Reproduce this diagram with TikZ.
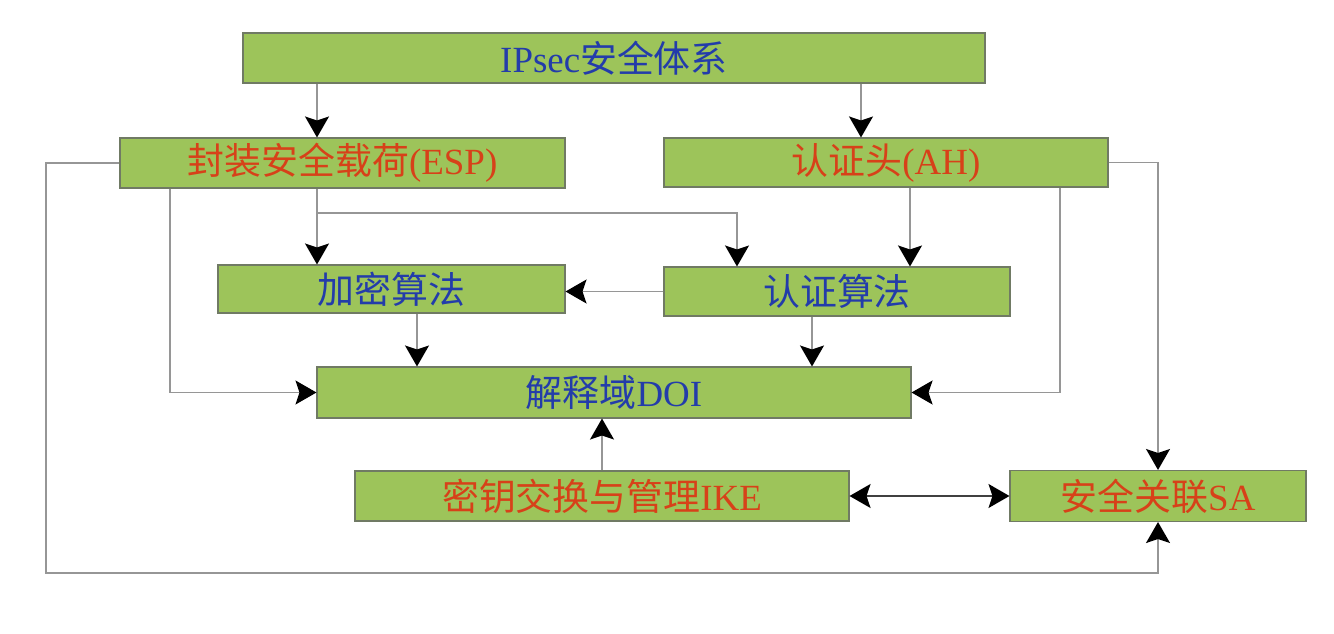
\documentclass[tikz,border=0pt]{standalone}
\usepackage{fontspec}
\setmainfont{Liberation Serif}
\newfontfamily\cjk{Noto Sans CJK SC}
\usetikzlibrary{arrows.meta}
\definecolor{boxgreen}{RGB}{157,196,90}
\definecolor{boxline}{RGB}{112,122,100}
\definecolor{txtblue}{RGB}{35,60,170}
\definecolor{txtred}{RGB}{215,65,25}
\definecolor{linegray}{RGB}{150,150,150}

\begin{document}
\begin{tikzpicture}[
		>={Stealth[length=0.42cm,width=0.48cm,inset=0.08cm,color=black]},
		blk/.style={draw=boxline,fill=boxgreen,line width=0.6pt,inner sep=0pt,font=\fontsize{21}{24}\selectfont},
		arr/.style={->,draw=linegray,line width=0.8pt},
	]
			\useasboundingbox (0,0) rectangle (26.68,-12.68);
			\node[blk,minimum width=14.84cm,minimum height=1cm,text=txtblue] (ipsec) at (12.28,-1.16) {IPsec{\cjk 安全体系}};
			\node[blk,minimum width=8.9cm,minimum height=1cm,text=txtred] (esp) at (6.85,-3.26) {{\cjk 封装安全载荷}(ESP)};
			\node[blk,minimum width=8.88cm,minimum height=0.98cm,text=txtred] (ah) at (17.72,-3.25) {{\cjk 认证头}(AH)};
			\node[blk,minimum width=6.94cm,minimum height=0.96cm,text=txtblue] (enc) at (7.83,-5.78) {\cjk 加密算法};
			\node[blk,minimum width=6.92cm,minimum height=0.98cm,text=txtblue] (auth) at (16.74,-5.83) {\cjk 认证算法};
			\node[blk,minimum width=11.88cm,minimum height=1.02cm,text=txtblue] (doi) at (12.28,-7.85) {{\cjk 解释域}DOI};
			\node[blk,minimum width=9.88cm,minimum height=1cm,text=txtred] (ike) at (12.04,-9.92) {{\cjk 密钥交换与管理}IKE};
			\node[blk,minimum width=5.92cm,minimum height=1.02cm,text=txtred] (sa) at (23.16,-9.92) {{\cjk 安全关联}SA};
			
			% lanes of the vertical lines
			\coordinate (lane1) at (6.34,0);
			\coordinate (lane2) at (17.22,0);
			\coordinate (lane3) at (18.2,0);
			\coordinate (lane4) at (8.34,0);
			\coordinate (lane5) at (16.24,0);
			\coordinate (lane6) at (3.4,0);
			\coordinate (lane7) at (21.2,0);
			\coordinate (split) at (14.74,-4.26);
			\coordinate (loop) at (0.92,-11.46);
			
			\draw[arr] (ipsec.south -| lane1) -- (esp.north -| lane1);
			\draw[arr] (ipsec.south -| lane2) -- (ah.north -| lane2);
			\draw[arr] (esp.south -| lane1) -- (enc.north -| lane1);
			\draw[arr] (split -| lane1) -- (split) -- (auth.north -| split);
			\draw[arr] (ah.south -| lane3) -- (auth.north -| lane3);
			\draw[arr] (auth.west) -- (auth.west -| enc.east);
			\draw[arr] (enc.south -| lane4) -- (doi.north -| lane4);
			\draw[arr] (auth.south -| lane5) -- (doi.north -| lane5);
			\draw[arr] (esp.south -| lane6) |- (doi.west);
			\draw[arr] (ah.south -| lane7) |- (doi.east);
			\draw[arr] (ah.east) -| (sa.north);
			\draw[arr] (ike.north) -- (ike.north |- doi.south);
			\draw[arr,<->,draw=black!75] (ike.east) -- (ike.east -| sa.west);
			\draw[arr] (esp.west) -| (loop) -| (sa.south);
		\end{tikzpicture}
\end{document}
